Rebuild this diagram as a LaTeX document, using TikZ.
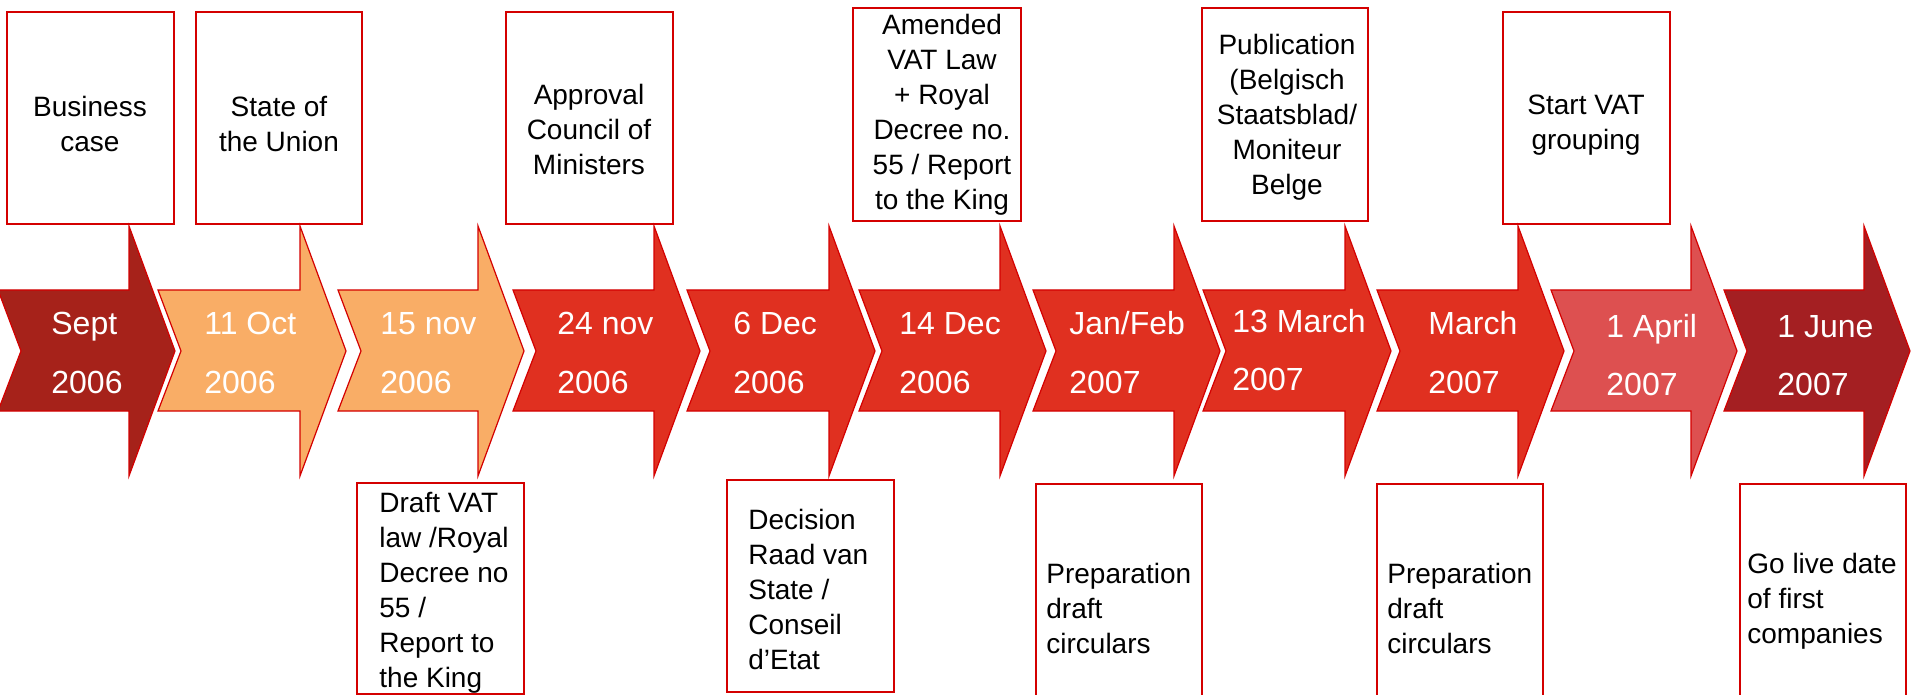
\documentclass[tikz,border=0pt]{standalone}
\usepackage{fontspec}
\setmainfont{Liberation Sans}
\definecolor{boxred}{HTML}{D40000}
\definecolor{septred}{HTML}{A6221A}
\definecolor{peach}{HTML}{F9AD66}
\definecolor{midred}{HTML}{E03020}
\definecolor{softred}{HTML}{DD5050}
\definecolor{juneRed}{HTML}{A41F22}
\def\timearrow[#1](#2:#3){\draw[arrowline,fill=#1] (#2,290) -- ({#3-46},290) -- ({#3-46},226) -- (#3,351) -- ({#3-46},476) -- ({#3-46},411) -- (#2,411) -- ({#2+23},351) -- cycle;}

\begin{document}
\begin{tikzpicture}[x=0.5pt,y=-0.5pt,
	arrowline/.style={draw=boxred, line width=0.6pt, line join=miter},
	evbox/.style={draw=boxred, line width=1pt},
	datelabel/.style={text=white, font=\fontsize{16}{29}\selectfont, align=left, anchor=base west, inner sep=0pt},
	toptext/.style={font=\fontsize{14}{17.5}\selectfont, align=center, anchor=base, inner sep=0pt},
	bottext/.style={font=\fontsize{14}{17.5}\selectfont, align=left, anchor=base west, inner sep=0pt}]
	%%%%% START %%%%%
	\useasboundingbox (0,0) rectangle (1911,695);
	
	% arrows
	\timearrow[septred](-2:175)
	\timearrow[peach](158:346)
	\timearrow[peach](338:524)
	\timearrow[midred](513:700)
	\timearrow[midred](687:875)
	\timearrow[midred](859:1046)
	\timearrow[midred](1033:1220)
	\timearrow[midred](1203:1391)
	\timearrow[midred](1377:1564)
	\timearrow[softred](1551:1737)
	\timearrow[juneRed](1724:1910)
	
	% dates (placed at the baseline of the last line)
	\node[datelabel] (sept) at (51,393) {Sept\\2006};
	\node[datelabel] (oct11) at (204,393) {11 Oct\\2006};
	\node[datelabel] (nov15) at (380,393) {15 nov\\2006};
	\node[datelabel] (nov24) at (557,393) {24 nov\\2006};
	\node[datelabel] (dec6) at (733,393) {6 Dec\\2006};
	\node[datelabel] (dec14) at (899,393) {14 Dec\\2006};
	\node[datelabel] (janfeb) at (1069,393) {Jan/Feb\\2007};
	\node[datelabel] (mar13) at (1232,390) {13 March\\2007};
	\node[datelabel] (mar) at (1428,393) {March\\2007};
	\node[datelabel] (apr1) at (1606,395) {1 April\\2007};
	\node[datelabel] (jun1) at (1777,395) {1 June\\2007};
	
	% boxes above
	\draw[evbox] (7,12) rectangle (174,224);
	\node[toptext] (business) at (90,152) {Business\\case};
	\draw[evbox] (196,12) rectangle (362,224);
	\node[toptext] (union) at (279,152) {State of\\the Union};
	\draw[evbox] (506,12) rectangle (673,224);
	\node[toptext] (approval) at (589,175) {Approval\\Council of\\Ministers};
	\draw[evbox] (853,8) rectangle (1021,221);
	\node[toptext] (amended) at (942,210) {Amended\\VAT Law\\+ Royal\\Decree no.\\55 / Report\\to the King};
	\draw[evbox] (1202,8) rectangle (1368,221);
	\node[toptext] (publication) at (1287,195) {Publication\\(Belgisch\\Staatsblad/\\Moniteur\\Belge};
	\draw[evbox] (1503,12) rectangle (1670,224);
	\node[toptext] (grouping) at (1586,150) {Start VAT\\grouping};
	
	% boxes below
	\draw[evbox] (357,483) rectangle (524,694);
	\node[bottext] (draft) at (379,687) {Draft VAT\\law /Royal\\Decree no\\55 /\\Report to\\the King};
	\draw[evbox] (727,480) rectangle (894,692);
	\node[bottext] (decision) at (748,669) {Decision\\Raad van\\State /\\Conseil\\d’Etat};
	\draw[evbox] (1036,484) rectangle (1202,700);
	\node[bottext] (prepA) at (1046,653) {Preparation\\draft\\circulars};
	\draw[evbox] (1377,484) rectangle (1543,700);
	\node[bottext] (prepB) at (1387,653) {Preparation\\draft\\circulars};
	\draw[evbox] (1740,484) rectangle (1906,700);
	\node[bottext] (golive) at (1747,643) {Go live date\\of first\\companies};
	%%%%% END %%%%%
\end{tikzpicture}
\end{document}
